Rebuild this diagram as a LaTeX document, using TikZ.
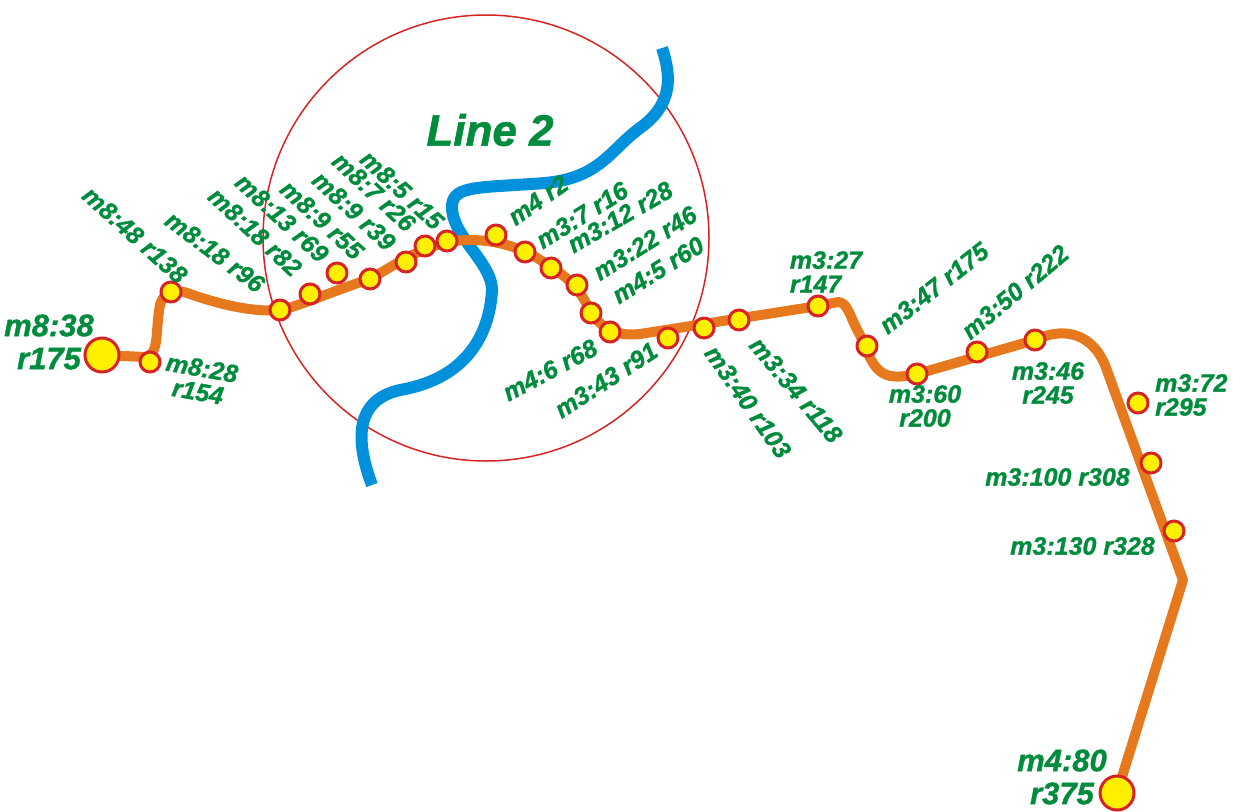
\documentclass[tikz,border=0pt]{standalone}
\usepackage{fontspec}
\setmainfont{Liberation Sans}
\newfontfamily\labfont[FakeBold=1.2]{Liberation Sans Bold Italic}
\definecolor{lineorange}{RGB}{230,120,30}
\definecolor{riverblue}{RGB}{0,145,220}
\definecolor{labgreen}{RGB}{0,140,60}
\definecolor{ringred}{RGB}{215,35,35}
\definecolor{stopyellow}{RGB}{255,240,0}
\tikzset{
  stop/.style={circle,fill=stopyellow,draw=ringred,line width=3pt,minimum size=20pt,inner sep=0pt},
  bigstop/.style={stop,minimum size=34pt},
  lab/.style={text=labgreen,font=\labfont\fontsize{25}{24}\selectfont,inner sep=0pt,align=center},
  biglab/.style={lab,font=\labfont\fontsize{31}{33}\selectfont}
}
\begin{document}
\begin{tikzpicture}[x=1pt,y=-1pt]
    \useasboundingbox (0,0) rectangle (1233,811);
    % ring
    \draw[ringred,line width=1.5pt] (486,238) circle (223);
    % river
    \draw[riverblue,line width=12pt] (372,485) .. controls (355,440) and (355,400) .. (400,390)
        .. controls (470,378) and (490,330) .. (492,290)
        .. controls (492,262) and (450,235) .. (452,205)
        .. controls (454,185) and (480,188) .. (545,183)
        .. controls (600,178) and (610,150) .. (640,128)
        .. controls (672,105) and (672,78) .. (662,48);
    % stops
    \coordinate (s0) at (102,355);
    \coordinate (s1) at (150,362);
    \coordinate (s2) at (171,292);
    \coordinate (s3) at (280,310);
    \coordinate (s4) at (310,294);
    \coordinate (s5) at (337,273);
    \coordinate (s6) at (370,279);
    \coordinate (s7) at (406,262);
    \coordinate (s8) at (425,246);
    \coordinate (s9) at (447,241);
    \coordinate (s10) at (496,235);
    \coordinate (s11) at (525,252);
    \coordinate (s12) at (551,268);
    \coordinate (s13) at (577,285);
    \coordinate (s14) at (591,313);
    \coordinate (s15) at (610,332);
    \coordinate (s16) at (668,338);
    \coordinate (s17) at (704,328);
    \coordinate (s18) at (739,320);
    \coordinate (s19) at (818,306);
    \coordinate (s20) at (867,346);
    \coordinate (s21) at (917,374);
    \coordinate (s22) at (977,352);
    \coordinate (s23) at (1035,340);
    \coordinate (s24) at (1138,403);
    \coordinate (s25) at (1151,463);
    \coordinate (s26) at (1174,531);
    \coordinate (s27) at (1117,793);
    % line 2
    \draw[lineorange,line width=10pt,line join=round] (s0) -- (145,357)
        .. controls (160,355) and (155,330) .. (160,305)
        .. controls (163,292) and (175,288) .. (190,294)
        .. controls (230,308) and (260,312) .. (s3)
        .. controls (300,306) and (330,292) .. (s6)
        .. controls (400,262) and (430,240) .. (470,240)
        .. controls (500,240) and (530,250) .. (s12)
        .. controls (575,280) and (585,300) .. (s14)
        .. controls (605,332) and (620,336) .. (640,334)
        -- (s19) -- (838,302)
        .. controls (848,302) and (850,318) .. (860,335)
        .. controls (875,372) and (880,382) .. (s21)
        -- (s23) .. controls (1060,328) and (1090,330) .. (1105,365)
        -- (1183,580) -- (s27);
    \foreach \s in {1,...,26} \node[stop] (n\s) at (s\s) {};
    \node[bigstop] (n0) at (s0) {};
    \node[bigstop] (n27) at (s27) {};
    % labels
    \node[biglab] (t0) at (49,342) {m8:38\\r175};
    \node[lab,rotate=-10] (t1) at (200,380) {m8:28\\r154};
    \node[lab,rotate=-42] (t2) at (135,235) {m8:48 r138};
    \node[lab,rotate=-37] (t3) at (215,252) {m8:18 r96};
    \node[lab,rotate=-43] (t4) at (255,232) {m8:18 r82};
    \node[lab,rotate=-43] (t5) at (282,218) {m8:13 r69};
    \node[lab,rotate=-43] (t6) at (322,220) {m8:9 r55};
    \node[lab,rotate=-43] (t7) at (354,211) {m8:9 r39};
    \node[lab,rotate=-43] (t8) at (374,192) {m8:7 r26};
    \node[lab,rotate=-43] (t9) at (402,190) {m8:5 r15};
    \node[lab,rotate=35] (t10) at (538,200) {m4 r2};
    \node[lab,rotate=32] (t11) at (582,215) {m3:7 r16};
    \node[lab,rotate=30] (t12) at (620,217) {m3:12 r28};
    \node[lab,rotate=32] (t13) at (645,243) {m3:22 r46};
    \node[lab,rotate=32] (t14) at (658,270) {m4:5 r60};
    \node[lab,rotate=28] (t15) at (550,370) {m4:6 r68};
    \node[lab,rotate=33] (t16) at (606,380) {m3:43 r91};
    \node[lab,rotate=-55] (t17) at (748,402) {m3:40 r103};
    \node[lab,rotate=-50] (t18) at (796,390) {m3:34 r118};
    \node[lab,align=left] (t19) at (826,272) {m3:27\\r147};
    \node[lab,rotate=38] (t20) at (934,288) {m3:47 r175};
    \node[lab] (t21) at (925,406) {m3:60\\r200};
    \node[lab,rotate=40] (t22) at (1015,292) {m3:50 r222};
    \node[lab] (t23) at (1048,383) {m3:46\\r245};
    \node[lab,align=left,anchor=west] (t24) at (1155,395) {m3:72\\r295};
    \node[lab,anchor=east] (t25) at (1130,477) {m3:100 r308};
    \node[lab,anchor=east] (t26) at (1155,546) {m3:130 r328};
    \node[biglab] (t27) at (1062,777) {m4:80\\r375};
    \node[lab,font=\labfont\fontsize{44}{44}\selectfont] (title) at (490,130) {Line 2};
\end{tikzpicture}
\end{document}
